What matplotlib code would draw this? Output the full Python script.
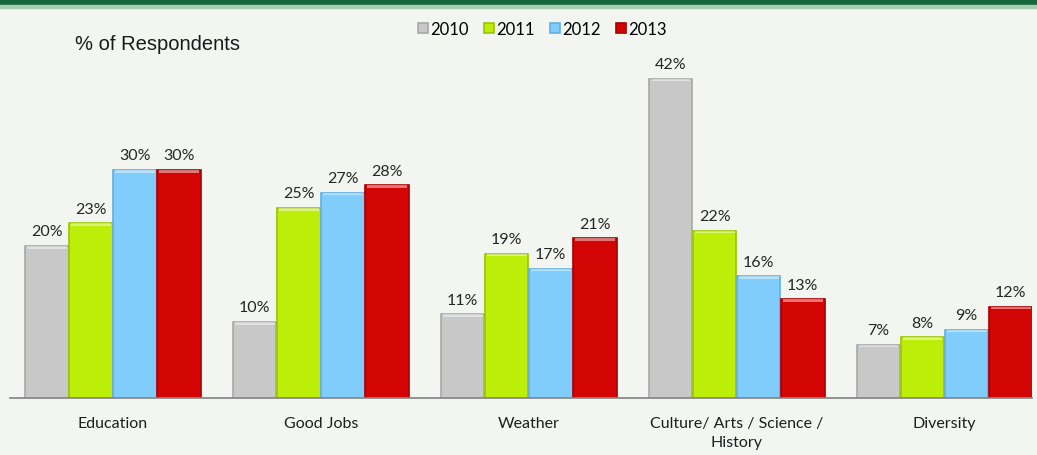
import numpy as np
import matplotlib.pyplot as plt
from matplotlib.patches import Rectangle

categories = ["Education", "Good Jobs", "Weather", "Culture/ Arts / Science /\nHistory", "Diversity"]
years = ["2010", "2011", "2012", "2013"]
pct_2010 = [20, 10, 11, 42, 7]
pct_2011 = [23, 25, 19, 22, 8]
pct_2012 = [30, 27, 17, 16, 9]
pct_2013 = [30, 28, 21, 13, 12]

series = [pct_2010, pct_2011, pct_2012, pct_2013]
colors = ["#c8c8c8", "#bdee0a", "#80ccfb", "#d20404"]
edges = ["#a8a8a8", "#9cc400", "#5fb0e6", "#a80000"]

W, H = 1037, 456
fig = plt.figure(figsize=(W / 100, H / 100), dpi=100)
bg = "#f3f5f1"
fig.patch.set_facecolor(bg)

# dark green band along the top edge
fig.add_artist(Rectangle((0, 1 - 6 / H), 1, 6 / H, transform=fig.transFigure,
                         color="#17673a", zorder=0))
fig.add_artist(Rectangle((0, 1 - 9 / H), 1, 3 / H, transform=fig.transFigure,
                         color="#a9cdb3", zorder=0))

ax = fig.add_axes([10 / W, 57 / H, 1022 / W, 342 / H])
ax.set_facecolor("none")

x = np.arange(len(categories))
bw = 0.212
offsets = (np.arange(len(years)) - 1.5) * bw
for i, (vals, c, ec) in enumerate(zip(series, colors, edges)):
    xs = x + offsets[i]
    ax.bar(xs, vals, width=bw * 0.985, color=c, edgecolor=ec, linewidth=1.2,
           label=years[i], zorder=2)
    # light bevel on top of each bar
    ax.bar(xs, [0.35] * len(vals), bottom=np.array(vals) - 0.35, width=bw * 0.9,
           color="white", alpha=0.45, linewidth=0, zorder=3)
    for xi, v in zip(xs, vals):
        ax.text(xi, v + 1.0, f"{v}%", ha="center", va="bottom", fontsize=11.5,
                family="Lato", color="#262626")

ax.set_xlim(-0.495, 4.42)
ax.set_ylim(0, 45)
ax.set_xticks(x)
ax.set_xticklabels(categories, fontsize=11.5, family="Lato", color="#1e1e1e",
                   linespacing=1.45)
ax.tick_params(axis="x", length=0, pad=13)
ax.set_yticks([])
for s in ["top", "right", "left"]:
    ax.spines[s].set_visible(False)
ax.spines["bottom"].set_color("#8a8a8a")
ax.spines["bottom"].set_linewidth(1.3)

fig.text(75 / W, 1 - 45 / H, "% of Respondents", fontsize=14.5, family="Liberation Sans",
         va="center", ha="left", color="#1a1a1a")

leg = fig.legend(loc="center", bbox_to_anchor=(542 / W, 1 - 30 / H), ncol=4,
                 frameon=False, prop={"family": "Lato", "size": 12},
                 handlelength=0.6, handleheight=0.6, handletextpad=0.15,
                 columnspacing=0.9)

fig.savefig("out.png", dpi=100, facecolor=bg)
